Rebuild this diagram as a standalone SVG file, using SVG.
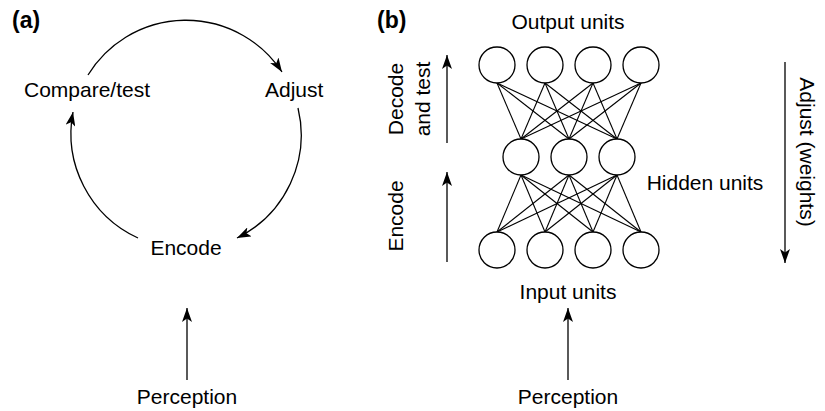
<svg xmlns="http://www.w3.org/2000/svg" width="825" height="411" viewBox="0 0 825 411">
<style>
text{font-family:"Liberation Sans",Arial,sans-serif;font-size:21px;fill:#000}
.lbl{font-weight:bold;font-size:23px}
.c{fill:#fff;stroke:#000;stroke-width:1.3}
.e{fill:none;stroke:#000;stroke-width:1.3}
.w{stroke:#000;stroke-width:1.1}
</style>
<defs>
<marker id="ah" markerUnits="userSpaceOnUse" viewBox="0 0 14 10" refX="14" refY="5" markerWidth="14" markerHeight="10" orient="auto">
<path d="M0,0 L14,5 L0,10 L3.5,5 z" fill="#000"/>
</marker>
</defs>
<rect width="825" height="411" fill="#fff"/>
<text class="lbl" x="12" y="28">(a)</text>
<text class="lbl" x="377" y="28">(b)</text>

<g id="connectors">
<path class="e" d="M88,75 A115,115 0 0 1 282,72" marker-end="url(#ah)"/>
<path class="e" d="M298,108 A115,115 0 0 1 237,238" marker-end="url(#ah)"/>
<path class="e" d="M138,238 A115,115 0 0 1 73,112" marker-end="url(#ah)"/>
<path class="e" d="M187,380 L187,308" marker-end="url(#ah)"/>
<path class="e" d="M568,380 L568,308" marker-end="url(#ah)"/>
<path class="e" d="M447,143 L447,55" marker-end="url(#ah)"/>
<path class="e" d="M447,262 L447,172" marker-end="url(#ah)"/>
<path class="e" d="M785,62 L785,263" marker-end="url(#ah)"/>
<g id="weights-top">
<line class="w" x1="497" y1="83" x2="521" y2="139"/><line class="w" x1="497" y1="83" x2="569" y2="139"/><line class="w" x1="497" y1="83" x2="617" y2="139"/>
<line class="w" x1="545" y1="83" x2="521" y2="139"/><line class="w" x1="545" y1="83" x2="569" y2="139"/><line class="w" x1="545" y1="83" x2="617" y2="139"/>
<line class="w" x1="593" y1="83" x2="521" y2="139"/><line class="w" x1="593" y1="83" x2="569" y2="139"/><line class="w" x1="593" y1="83" x2="617" y2="139"/>
<line class="w" x1="641" y1="83" x2="521" y2="139"/><line class="w" x1="641" y1="83" x2="569" y2="139"/><line class="w" x1="641" y1="83" x2="617" y2="139"/>
</g>
<g id="weights-bottom">
<line class="w" x1="521" y1="175" x2="497" y2="232"/><line class="w" x1="521" y1="175" x2="545" y2="232"/><line class="w" x1="521" y1="175" x2="593" y2="232"/><line class="w" x1="521" y1="175" x2="641" y2="232"/>
<line class="w" x1="569" y1="175" x2="497" y2="232"/><line class="w" x1="569" y1="175" x2="545" y2="232"/><line class="w" x1="569" y1="175" x2="593" y2="232"/><line class="w" x1="569" y1="175" x2="641" y2="232"/>
<line class="w" x1="617" y1="175" x2="497" y2="232"/><line class="w" x1="617" y1="175" x2="545" y2="232"/><line class="w" x1="617" y1="175" x2="593" y2="232"/><line class="w" x1="617" y1="175" x2="641" y2="232"/>
</g>
</g>

<g id="compare"><text x="87" y="97" text-anchor="middle">Compare/test</text></g>
<g id="adjust"><text x="265" y="97">Adjust</text></g>
<g id="encode"><text x="186" y="255" text-anchor="middle">Encode</text></g>
<g id="perception-a"><text x="187" y="404" text-anchor="middle">Perception</text></g>
<g id="perception-b"><text x="568" y="404" text-anchor="middle">Perception</text></g>

<g id="output-units">
<text x="568" y="29" text-anchor="middle">Output units</text>
<circle class="c" cx="497" cy="65" r="18"/><circle class="c" cx="545" cy="65" r="18"/><circle class="c" cx="593" cy="65" r="18"/><circle class="c" cx="641" cy="65" r="18"/>
</g>
<g id="hidden-units">
<circle class="c" cx="521" cy="157" r="18"/><circle class="c" cx="569" cy="157" r="18"/><circle class="c" cx="617" cy="157" r="18"/>
<text x="705" y="190" text-anchor="middle">Hidden units</text>
</g>
<g id="input-units">
<circle class="c" cx="497" cy="250" r="18"/><circle class="c" cx="545" cy="250" r="18"/><circle class="c" cx="593" cy="250" r="18"/><circle class="c" cx="641" cy="250" r="18"/>
<text x="568" y="299" text-anchor="middle">Input units</text>
</g>
<g id="decode-label">
<text transform="translate(403,99) rotate(-90)" text-anchor="middle">Decode</text>
<text transform="translate(430,99) rotate(-90)" text-anchor="middle">and test</text>
</g>
<g id="encode-label"><text transform="translate(403,216) rotate(-90)" text-anchor="middle">Encode</text></g>
<g id="adjust-weights"><text transform="translate(800,152) rotate(90)" text-anchor="middle">Adjust (weights)</text></g>
</svg>
